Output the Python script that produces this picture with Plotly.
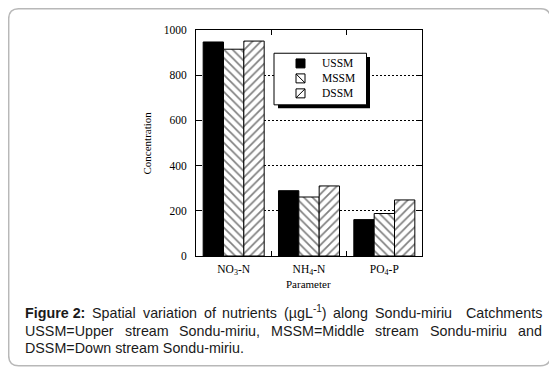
import plotly.graph_objects as go

# ---- data ----
categories = ["NO<sub>3</sub>-N", "NH<sub>4</sub>-N", "PO<sub>4</sub>-P"]
series_names = ["USSM", "MSSM", "DSSM"]
ussm = [947, 289, 161]
mssm = [915, 261, 188]
dssm = [951, 310, 248]
y_ticks = [0, 200, 400, 600, 800, 1000]

# page is rendered with an 8px body margin; figure sized to fit the window
OFF = 8
W, H = 557 - OFF, 372 - OFF
L, R, T, B = 196 - OFF, 557 - 422, 30 - OFF, 372 - 256.5
PW, PH = W - L - R, H - T - B


def px(x):  # page pixel -> paper
    return (x - OFF - L) / PW


def py(y):  # page pixel -> paper
    return (H + OFF - B - y) / PH


serif = "Liberation Serif"
sans = "Liberation Sans"

fig = go.Figure()
styles = [
    dict(marker=dict(color="black", line=dict(color="black", width=1))),
    dict(marker=dict(color="white", line=dict(color="black", width=1),
                     pattern=dict(shape="\\", fgcolor="black", bgcolor="white", size=6, solidity=0.28))),
    dict(marker=dict(color="white", line=dict(color="black", width=1),
                     pattern=dict(shape="/", fgcolor="black", bgcolor="white", size=6, solidity=0.28))),
]
for name, vals, st in zip(series_names, [ussm, mssm, dssm], styles):
    fig.add_trace(go.Bar(x=categories, y=vals, name=name, **st))

fig.update_layout(
    width=W, height=H,
    margin=dict(l=L, r=R, t=T, b=B, pad=0),
    paper_bgcolor="white", plot_bgcolor="white",
    barmode="group", bargap=0.19, bargroupgap=0,
    showlegend=False,
    font=dict(family=serif, size=11, color="black"),
)
fig.update_xaxes(
    showline=True, linecolor="black", linewidth=1, mirror="ticks",
    ticks="inside", ticklen=5, tickcolor="black", tickson="boundaries",
    showgrid=False, tickfont=dict(family=serif, size=11.5, color="black"),
    ticklabelstandoff=2,
)
fig.update_yaxes(
    range=[0, 1000], tickvals=y_ticks,
    showline=True, linecolor="black", linewidth=1, mirror="ticks",
    ticks="inside", ticklen=5, tickcolor="black",
    showgrid=True, gridcolor="black", gridwidth=1, griddash="2px,2px",
    zeroline=False, tickfont=dict(family=serif, size=11.5, color="black"),
    ticklabelstandoff=6,
)

annotations = []
# axis titles
annotations.append(dict(text="Concentration", x=px(146.5), y=0.5, xref="paper", yref="paper",
                        textangle=-90, showarrow=False, xanchor="center", yanchor="middle",
                        font=dict(family=serif, size=11, color="black")))
annotations.append(dict(text="Parameter", x=px(308), y=py(285), xref="paper", yref="paper",
                        showarrow=False, xanchor="center", yanchor="middle",
                        font=dict(family=serif, size=11, color="black")))

shapes = []
# outer rounded border
x0, x1, y0, y1, r = px(8.7), px(550.5), py(8.7), py(366.5), 10
rx, ry = r / PW, r / PH
path = (f"M{x0 + rx},{y0} L{x1 - rx},{y0} Q{x1},{y0} {x1},{y0 - ry} "
        f"L{x1},{y1 + ry} Q{x1},{y1} {x1 - rx},{y1} L{x0 + rx},{y1} Q{x0},{y1} {x0},{y1 + ry} "
        f"L{x0},{y0 - ry} Q{x0},{y0} {x0 + rx},{y0} Z")
shapes.append(dict(type="path", path=path, xref="paper", yref="paper",
                   line=dict(color="#b8b8b8", width=1.5), fillcolor="rgba(0,0,0,0)", layer="below"))

# legend box with shadow
shapes.append(dict(type="rect", xref="paper", yref="paper", x0=px(278), x1=px(370), y0=py(57), y1=py(108.5),
                   fillcolor="black", line=dict(width=0), layer="above"))
shapes.append(dict(type="rect", xref="paper", yref="paper", x0=px(274), x1=px(366.5), y0=py(53.3), y1=py(105),
                   fillcolor="white", line=dict(color="black", width=1), layer="above"))
centers = [63.5, 78.5, 93.5]
sx0, sx1 = 296, 305
for i, (name, cy) in enumerate(zip(series_names, centers)):
    sy0, sy1 = cy - 4.5, cy + 4.5
    shapes.append(dict(type="rect", xref="paper", yref="paper", x0=px(sx0), x1=px(sx1), y0=py(sy0), y1=py(sy1),
                       fillcolor="black" if i == 0 else "white", line=dict(color="black", width=1), layer="above"))
    if i == 1:
        shapes.append(dict(type="line", xref="paper", yref="paper", x0=px(sx0), y0=py(sy0), x1=px(sx1), y1=py(sy1),
                           line=dict(color="black", width=1), layer="above"))
    if i == 2:
        shapes.append(dict(type="line", xref="paper", yref="paper", x0=px(sx0), y0=py(sy1), x1=px(sx1), y1=py(sy0),
                           line=dict(color="black", width=1), layer="above"))
    annotations.append(dict(text=name, x=px(320), y=py(cy), xref="paper", yref="paper", showarrow=False,
                            xanchor="left", yanchor="middle", font=dict(family=serif, size=11.5, color="black")))

# ---- caption, justified between two margins ----
CAP_SIZE = 14.3
cap_font = dict(family=sans, size=CAP_SIZE, color="#1a1a1a")
CAP_L, CAP_R = 24, 541

# Arial / Liberation Sans advance widths (per 1000 em)
AW = {" ": 278, "(": 333, ")": 333, ",": 278, "-": 333, ".": 278, ":": 278, "=": 584, "1": 556, "2": 556,
      "C": 722, "D": 722, "F": 611, "L": 556, "M": 833, "S": 667, "U": 722,
      "a": 556, "c": 500, "d": 556, "e": 556, "f": 278, "g": 556, "h": 556, "i": 222, "l": 222, "m": 833,
      "n": 556, "o": 556, "p": 556, "r": 333, "s": 500, "t": 278, "u": 556, "v": 500, "w": 722, "µ": 556}
AWB = {"F": 611, "i": 278, "g": 611, "u": 611, "r": 389, "e": 556, " ": 278, "2": 556, ":": 333}


def width(parts):
    tot = 0
    for txt, kind in parts:
        if kind == "b":
            tot += sum(AWB.get(c, 556) for c in txt)
        elif kind == "sup":
            tot += 0.7 * sum(AW.get(c, 556) for c in txt)
        else:
            tot += sum(AW.get(c, 556) for c in txt)
    return tot / 1000 * CAP_SIZE


def justify(words, y, spaces=None):
    spaces = spaces or [1] * (len(words) - 1)
    ws = [width(p) for _, p in words]
    unit = (CAP_R - CAP_L - sum(ws)) / sum(spaces)
    x = CAP_L
    for k, ((html, parts), w) in enumerate(zip(words, ws)):
        has_sup = any(kind == "sup" for _, kind in parts)
        annotations.append(dict(text=html, x=px(x), y=py(y), xref="paper", yref="paper", showarrow=False,
                                xanchor="left", yanchor="middle", font=cap_font, borderpad=0,
                                yshift=1.5 if has_sup else 0))
        if k < len(spaces):
            x += w + unit * spaces[k]


def plain(w):
    return (w, [(w, "")])


line1 = [("<b>Figure 2:</b>", [("Figure 2:", "b")]), plain("Spatial"), plain("variation"), plain("of"),
         plain("nutrients"), ("(µgL<sup>-1</sup>)", [("(µgL", ""), ("-1", "sup"), (")", "")]),
         plain("along"), plain("Sondu-miriu"), plain("Catchments")]
justify(line1, 314, [1, 1, 1, 1, 1, 1, 1, 2])

line2 = [plain(w) for w in ["USSM=Upper", "stream", "Sondu-miriu,", "MSSM=Middle", "stream",
                            "Sondu-miriu", "and"]]
justify(line2, 331.5)

annotations.append(dict(text="DSSM=Down stream Sondu-miriu.", x=px(CAP_L), y=py(348.5), xref="paper",
                        yref="paper", showarrow=False, xanchor="left", yanchor="middle", font=cap_font,
                        borderpad=0))

fig.update_layout(annotations=annotations, shapes=shapes)
fig.write_html("out.html")
